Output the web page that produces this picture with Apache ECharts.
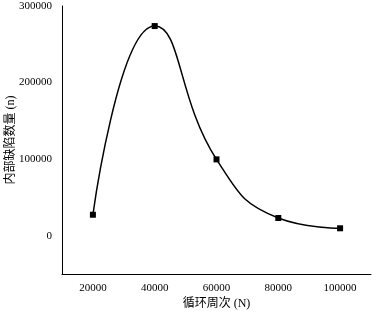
<!DOCTYPE html>
<html><head><meta charset="utf-8">
<script src="https://cdn.jsdelivr.net/npm/echarts@6/dist/echarts.min.js"></script>
<style>html,body{margin:0;padding:0;background:#fff}#c{width:373px;height:317px}</style>
</head><body><div id="c"></div>
<script>
var cycles = [20000, 40000, 60000, 80000, 100000];
var defects = [27400, 273800, 99700, 23100, 9700];
var xTickLabels = [20000, 40000, 60000, 80000, 100000];
var yTickLabels = [0, 100000, 200000, 300000];

var chart = echarts.init(document.getElementById('c'), null, {renderer: 'canvas'});
var serif = '"Liberation Serif", "Times New Roman", serif';
chart.setOption({
  animation: false,
  grid: {left: 62, top: 6, right: 2, bottom: 43, containLabel: false, outerBoundsMode: 'none'},
  xAxis: {
    type: 'value', min: 10000, max: 110000, interval: 10000,
    name: '循环周次 (N)', nameLocation: 'middle', nameGap: 24, nameMoveOverlap: false,
    nameTextStyle: {fontFamily: serif + ', "Noto Sans CJK SC"', fontSize: 12, color: '#000'},
    axisLine: {onZero: false, lineStyle: {color: '#000', width: 1}},
    axisTick: {show: false},
    splitLine: {show: false},
    axisLabel: {
      fontFamily: serif, fontSize: 11, color: '#000', margin: 9,
      formatter: function (v) { return xTickLabels.indexOf(v) >= 0 ? String(v) : ''; }
    }
  },
  yAxis: {
    type: 'value', min: -50000, max: 300000, interval: 50000,
    name: '内部缺陷数量 (n)', nameLocation: 'middle', nameGap: 45, nameMoveOverlap: false,
    nameTextStyle: {fontFamily: serif + ', "Noto Sans CJK SC"', fontSize: 12, color: '#000'},
    axisLine: {show: true, onZero: false, lineStyle: {color: '#000', width: 1}},
    axisTick: {show: false},
    splitLine: {show: false},
    axisLabel: {
      fontFamily: serif, fontSize: 11, color: '#000', margin: 10,
      formatter: function (v) { return yTickLabels.indexOf(v) >= 0 ? String(v) : ''; }
    }
  },
  series: [{
    type: 'line',
    data: cycles.map(function (x, i) { return [x, defects[i]]; }),
    smooth: 0.5,
    symbol: 'rect', symbolSize: 6,
    lineStyle: {color: '#000', width: 1.5},
    itemStyle: {color: '#000'}
  }]
});
</script></body></html>
